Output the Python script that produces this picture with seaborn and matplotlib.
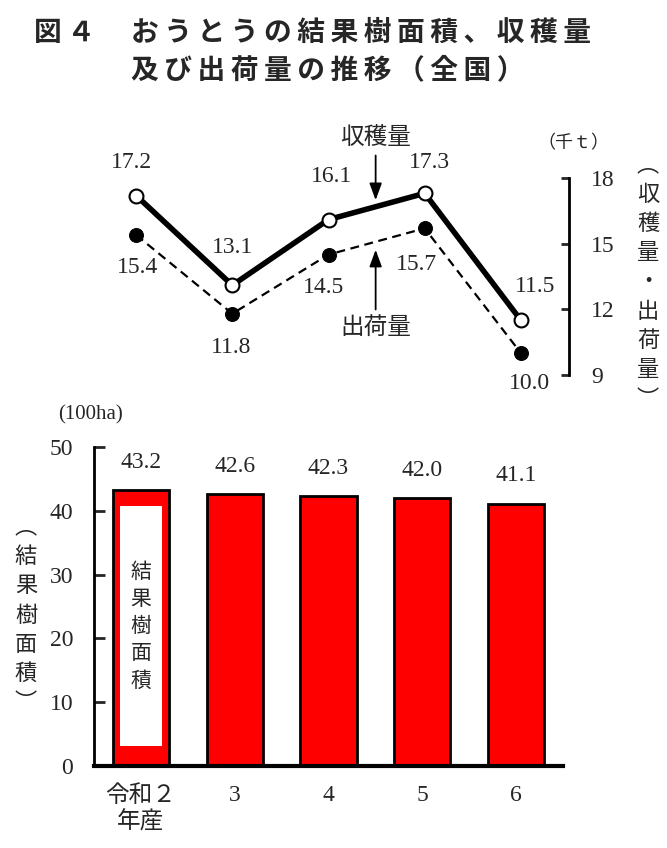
import numpy as np
import pandas as pd
import seaborn as sns
import matplotlib
matplotlib.use('Agg')
import matplotlib.pyplot as plt
from matplotlib.patches import Rectangle

# 年産ごとの値
years = ['令和２\n年産', '3', '4', '5', '6']
harvest = [17.2, 13.1, 16.1, 17.3, 11.5]    # 収穫量（千t）
shipment = [15.4, 11.8, 14.5, 15.7, 10.0]   # 出荷量（千t）
area = [43.2, 42.6, 42.3, 42.0, 41.1]       # 結果樹面積（100ha）

sns.set_theme(style='white')
NUM = ['Liberation Serif', 'Noto Sans CJK JP', 'DejaVu Sans']
JP = ['Noto Sans CJK JP', 'DejaVu Sans']
plt.rcParams['font.family'] = NUM

df_line = pd.DataFrame({'x': np.arange(len(years)), '収穫量': harvest, '出荷量': shipment})
df_bar = pd.DataFrame({'year': years, 'area': area})

W, H = 667, 848
fig = plt.figure(figsize=(W / 100, H / 100), dpi=100)
ax_l = fig.add_axes([88 / W, 1 - 375 / H, 481 / W, 197 / H])
ax_b = fig.add_axes([94 / W, 1 - 766 / H, 469 / W, 319 / H])

# ---- 上段：収穫量・出荷量（折れ線）
sns.lineplot(data=df_line, x='x', y='出荷量', ax=ax_l, color='black', lw=1.6,
             linestyle='--', marker='o', markersize=10, markerfacecolor='black',
             markeredgecolor='black', clip_on=False)
sns.lineplot(data=df_line, x='x', y='収穫量', ax=ax_l, color='black', lw=4,
             marker='o', markersize=10, markerfacecolor='white',
             markeredgecolor='black', markeredgewidth=1.5, clip_on=False)
ax_l.lines[0].set_dashes([4, 2.5])

ax_l.set_xlim(-0.5, 4.5)
ax_l.set_ylim(9, 18)
ax_l.set_yticks([9, 12, 15, 18])
ax_l.set_xticks([])
ax_l.set_xlabel('')
ax_l.set_ylabel('')
ax_l.yaxis.tick_right()
ax_l.tick_params(axis='y', direction='in', length=6, width=2, pad=16,
                 labelsize=17, right=True, left=False)
for s in ['left', 'top', 'bottom']:
    ax_l.spines[s].set_visible(False)
ax_l.spines['right'].set_linewidth(2)
ax_l.spines['right'].set_color('black')
ax_l.patch.set_alpha(0)

h_off = [(-5, 33), (0, 38), (3, 43), (5, 31), (14, 34)]
s_off = [(1, -33), (-1, -34), (-5, -33), (-8, -36), (9, -30)]
for i, v in enumerate(harvest):
    ax_l.annotate(f'{v:.1f}', (i, v), xytext=h_off[i], textcoords='offset pixels',
                  ha='center', va='center', fontsize=17, annotation_clip=False)
for i, v in enumerate(shipment):
    ax_l.annotate(f'{v:.1f}', (i, v), xytext=s_off[i], textcoords='offset pixels',
                  ha='center', va='center', fontsize=17, annotation_clip=False)

arrow = dict(arrowstyle='-|>,head_length=0.6,head_width=0.22', color='black', lw=1.3)
ax_l.annotate('収穫量', xy=(2.49, 16.86), xytext=(2.49, 19.83), ha='center', va='center',
              fontsize=17, family=JP, arrowprops=arrow, annotation_clip=False)
ax_l.annotate('出荷量', xy=(2.49, 14.85), xytext=(2.49, 11.19), ha='center', va='center',
              fontsize=17, family=JP, arrowprops=arrow, annotation_clip=False)

fig.text(573 / W, 1 - 143 / H, '（千ｔ）', ha='center', va='center', fontsize=13, family=JP)
fig.text(648 / W, 1 - 282 / H, '\n'.join('︵収穫量・出荷量︶'), ha='center', va='center',
         fontsize=16, family=JP, linespacing=1.35)

# ---- 下段：結果樹面積（棒）
sns.barplot(data=df_bar, x='year', y='area', ax=ax_b, color='#ff0000', width=0.6,
            saturation=1, edgecolor='black', linewidth=2)
ax_b.set_xlim(-0.5, 4.5)
ax_b.set_ylim(0, 50)
ax_b.set_yticks(range(0, 51, 10))
ax_b.set_xlabel('')
ax_b.set_ylabel('')
ax_b.tick_params(axis='y', direction='in', length=8, width=2, pad=15, labelsize=17, left=True)
ax_b.tick_params(axis='x', length=0, pad=14, labelsize=17)
for s in ['top', 'right']:
    ax_b.spines[s].set_visible(False)
ax_b.spines['left'].set_linewidth(2)
ax_b.spines['bottom'].set_linewidth(3)
for s in ['left', 'bottom']:
    ax_b.spines[s].set_color('black')

for i, v in enumerate(area):
    ax_b.annotate(f'{v:.1f}', (i, v), xytext=(0, 28), textcoords='offset pixels',
                  ha='center', va='center', fontsize=17)

ax_b.add_patch(Rectangle((-0.224, 3.1), 0.448, 37.7, facecolor='white',
                         edgecolor='none', zorder=3))
ax_b.text(0, 21.9, '\n'.join('結果樹面積'), ha='center', va='center', fontsize=15,
          family=JP, linespacing=1.3, zorder=4)

fig.text(91 / W, 1 - 415 / H, '(100ha)', ha='center', va='center', fontsize=15)
fig.text(26 / W, 1 - 615 / H, '\n'.join('︵結果樹面積︶'), ha='center', va='center',
         fontsize=16, family=JP, linespacing=1.35)

# ---- タイトル
fig.text(34 / W, 1 - 33 / H, '\u2009'.join('図４'), ha='left', va='center',
         fontsize=20, weight='bold', family=JP)
fig.text(131 / W, 1 - 33 / H, '\u2009'.join('おうとうの結果樹面積、収穫量'), ha='left',
         va='center', fontsize=20, weight='bold', family=JP)
fig.text(131 / W, 1 - 70 / H, '\u2009'.join('及び出荷量の推移（全国）'), ha='left',
         va='center', fontsize=20, weight='bold', family=JP)

fig.savefig('out.png', dpi=100)
